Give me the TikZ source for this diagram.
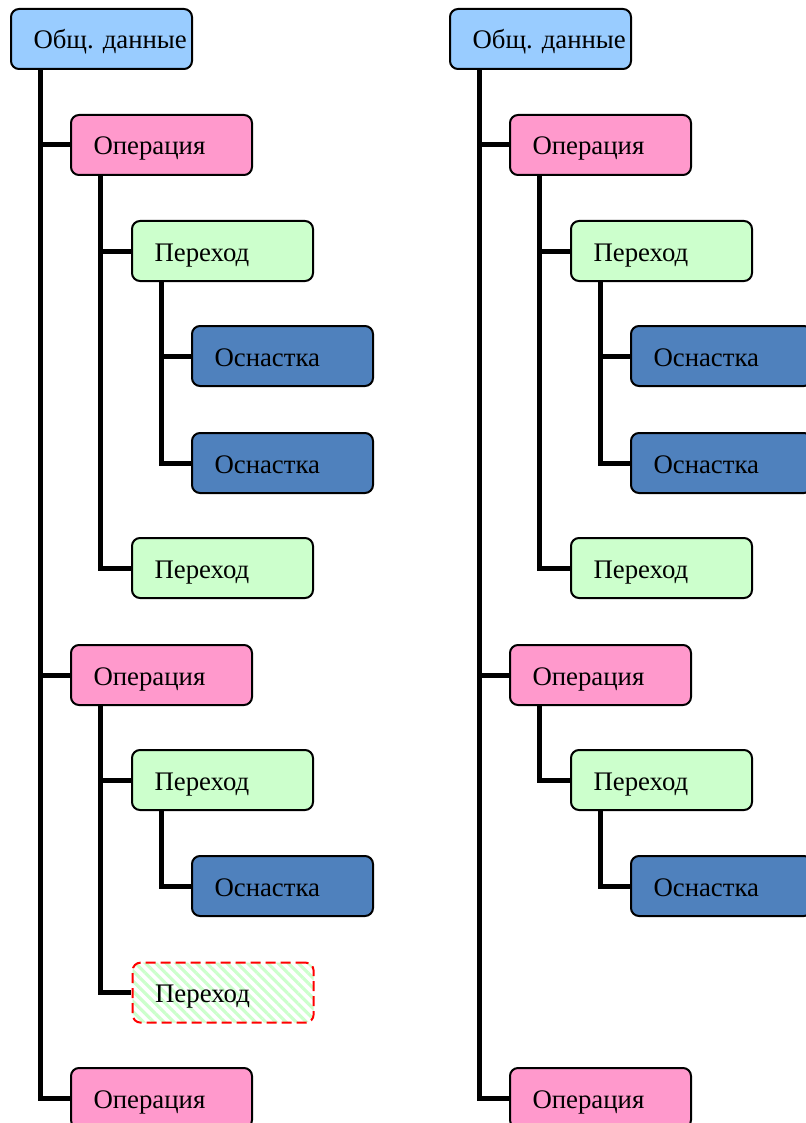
\documentclass[tikz,border=0pt]{standalone}
\usepackage{fontspec}
\setmainfont{Liberation Serif}
\usepackage{tikz}
\usetikzlibrary{calc}
\usetikzlibrary{patterns.meta}
\usepackage{xcolor}

\definecolor{rootfill}{RGB}{153,204,255}
\definecolor{opfill}{RGB}{255,153,204}
\definecolor{perfill}{RGB}{204,255,204}
\definecolor{osnfill}{RGB}{79,129,189}

\begin{document}
\frenchspacing
\begin{tikzpicture}[x=0.5pt, y=-0.5pt]
        % ================= 样式定义 =================
        \tikzset{
            % 圆角矩形节点 (左对齐文字, 不换行)
            tbox/.style={rectangle, rounded corners=4pt, draw=black, line width=1pt,
                text height=20pt, text depth=10pt, text width=88pt,
                inner xsep=1.25pt, inner ysep=0pt,
                align=left, anchor=north west, font=\fontsize{13.4}{16}\selectfont,
                execute at begin node={\hspace*{10pt}\hbox\bgroup},
                execute at end node={\egroup}},
            rootbox/.style={tbox, fill=rootfill},
            opbox/.style={tbox, fill=opfill},
            perbox/.style={tbox, fill=perfill},
            osnbox/.style={tbox, fill=osnfill},
            % 虚线斜纹节点
            ghostbox/.style={tbox, draw=red, dash pattern=on 5pt off 2.5pt,
                pattern={Lines[angle=-45, distance=3.6pt, line width=1.6pt]}, pattern color=perfill},
            % 黑色粗连线
            link/.style={line width=2.5pt, black}
        }

        % 固定画布大小
        \useasboundingbox (0,0) rectangle (805,1123);

        % ================= 左侧树 =================
        \node[rootbox] (l_root) at (10,8) {Общ. данные};
        \node[opbox]   (l_op1)  at (70,114) {Операция};
        \node[perbox]  (l_per1) at (131,220) {Переход};
        \node[osnbox]  (l_osn1) at (191,325) {Оснастка};
        \node[osnbox]  (l_osn2) at (191,432) {Оснастка};
        \node[perbox]  (l_per2) at (131,537) {Переход};
        \node[opbox]   (l_op2)  at (70,644) {Операция};
        \node[perbox]  (l_per3) at (131,749) {Переход};
        \node[osnbox]  (l_osn3) at (191,855) {Оснастка};
        \node[ghostbox](l_per4) at (131,961) {Переход};
        \node[opbox]   (l_op3)  at (70,1067) {Операция};

        % ================= 右侧树 =================
        \node[rootbox] (r_root) at (449,8) {Общ. данные};
        \node[opbox]   (r_op1)  at (509,114) {Операция};
        \node[perbox]  (r_per1) at (570,220) {Переход};
        \node[osnbox]  (r_osn1) at (630,325) {Оснастка};
        \node[osnbox]  (r_osn2) at (630,432) {Оснастка};
        \node[perbox]  (r_per2) at (570,537) {Переход};
        \node[opbox]   (r_op2)  at (509,644) {Операция};
        \node[perbox]  (r_per3) at (570,749) {Переход};
        \node[osnbox]  (r_osn3) at (630,855) {Оснастка};
        \node[opbox]   (r_op3)  at (509,1067) {Операция};

        % ================= 绘制连线 =================
        \foreach \p/\c in {l_root/l_op1, l_root/l_op2, l_root/l_op3,
                           l_op1/l_per1, l_op1/l_per2, l_per1/l_osn1, l_per1/l_osn2,
                           l_op2/l_per3, l_op2/l_per4, l_per3/l_osn3,
                           r_root/r_op1, r_root/r_op2, r_root/r_op3,
                           r_op1/r_per1, r_op1/r_per2, r_per1/r_osn1, r_per1/r_osn2,
                           r_op2/r_per3, r_per3/r_osn3}
            \draw[link] ($(\p.south west)+(30,0)$) |- (\c.west);

    \end{tikzpicture}
\end{document}
